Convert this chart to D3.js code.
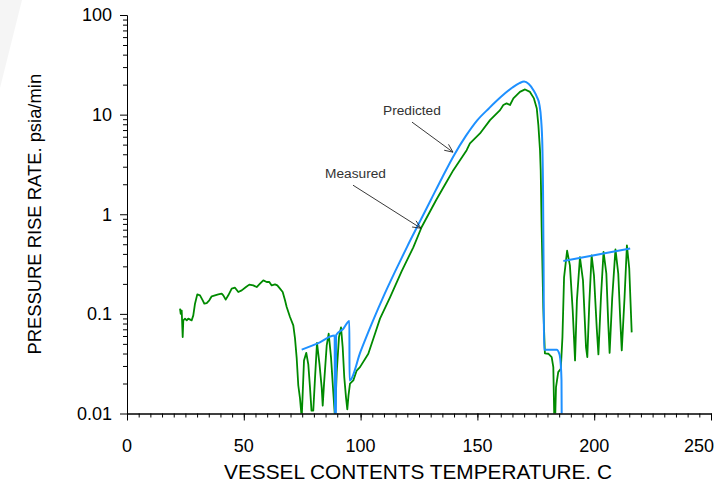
<!DOCTYPE html>
<html>
<head>
<meta charset="utf-8">
<script src="https://cdn.jsdelivr.net/npm/d3@7"></script>
<style>
  body { margin: 0; background: #fff; }
  svg { display: block; }
  text { font-family: Arial, "Liberation Sans", Helvetica, sans-serif; }
</style>
</head>
<body>
<svg id="chart" width="723" height="486"></svg>
<script>
// Measured pressure rise rate (psia/min) against vessel contents temperature (C)
const measuredTemp = [
  22.69, 22.99, 23.42, 23.84, 24.10, 24.83, 25.56, 26.24, 27.70, 28.38,
  29.11, 30.09, 31.25, 32.41, 33.09, 34.12, 35.23, 36.26, 37.67, 39.08,
  40.54, 41.22, 42.25, 43.36, 44.82, 46.23, 47.65, 49.10, 50.94, 52.35,
  54.07, 55.52, 56.93, 58.35, 59.80, 60.92, 61.94, 63.36, 64.34, 65.50,
  66.65, 67.64, 68.36, 69.78, 71.19, 71.92, 72.65, 73.33, 74.06, 74.79,
  75.77, 76.75, 77.61, 78.34, 78.98, 79.75, 80.48, 81.34, 82.41, 83.35,
  83.78, 84.33, 85.49, 86.34, 87.33, 88.18, 89.04, 89.77, 90.75, 91.61,
  92.34, 93.02, 93.75, 94.31, 94.82, 95.46, 96.88, 98.33, 99.74, 103.3,
  106.16, 108.3, 112.6, 117.55, 122.56, 126.15, 132.3, 136.1, 139.7, 145.4,
  146.8, 151.1, 155.4, 159.7, 161.1, 162.5, 163.95, 165.4, 168.2, 170.4,
  172.5, 174.2, 175.4, 176.1, 176.8, 177.1, 177.5, 178.2, 178.9, 180.35,
  181.8, 182.5, 182.9, 183.3, 183.65, 184.6, 185.7, 186.4, 187.1, 188.4,
  189.6, 190.8, 191.8, 192.6, 193.9, 195.2, 196.5, 197.05, 197.9, 198.9,
  199.9, 201.1, 201.8, 202.9, 204.0, 205.2, 206.0, 206.6, 207.7, 209.1,
  210.3, 211.2, 211.8, 213.0, 214.0, 215.0, 216.05
];
const measuredRate = [
  0.113, 0.100, 0.108, 0.0585, 0.0861, 0.0896, 0.0861, 0.0896, 0.0861, 0.0966,
  0.1266, 0.157, 0.1535, 0.1368, 0.1266, 0.1284, 0.1368, 0.150, 0.1535, 0.157,
  0.1596, 0.1535, 0.139, 0.1535, 0.179, 0.183, 0.1656, 0.172, 0.186, 0.1966,
  0.193, 0.186, 0.201, 0.217, 0.209, 0.209, 0.193, 0.198, 0.193, 0.179,
  0.1656, 0.1368, 0.117, 0.093, 0.0766, 0.0568, 0.0357, 0.0191, 0.0142, 0.009,
  0.0341, 0.0406, 0.0311, 0.0182, 0.0107, 0.0107, 0.0225, 0.0511, 0.0311, 0.0182,
  0.0120, 0.0196, 0.0482, 0.0632, 0.0368, 0.0182, 0.009, 0.0258, 0.0585, 0.0731,
  0.046, 0.023, 0.0145, 0.011, 0.0152, 0.0199, 0.0215, 0.027, 0.0292, 0.0398,
  0.0632, 0.0896, 0.1466, 0.267, 0.466, 0.745, 1.382, 1.98, 2.77, 4.40,
  5.14, 6.47, 8.81, 11.1, 12.5, 12.96, 12.5, 14.55, 16.9, 17.9,
  16.9, 14.55, 11.6, 7.84, 4.40, 2.77, 0.74, 0.116, 0.0401, 0.0398,
  0.0368, 0.0292, 0.009, 0.009, 0.0184, 0.026, 0.0281, 0.0581, 0.233, 0.430,
  0.307, 0.108, 0.0341, 0.1368, 0.370, 0.217, 0.046, 0.0368, 0.1275, 0.387,
  0.244, 0.0714, 0.0392, 0.1476, 0.420, 0.2535, 0.0821, 0.0406, 0.143, 0.445,
  0.2535, 0.0830, 0.043, 0.1476, 0.488, 0.286, 0.0652
];

// Predicted rate; null splits the curve into separate pieces
const predictedTemp = [
  74.8, 81.9, 88.9, 89.0, 89.4, 89.5, 92.6, 95.2, 95.25,
  100, 105, 110, 115, 120, 125, 130, 135, 140, 145,
  150, 155, 160, 165, 168, 170, 172, 174, 175.5, 176.5,
  177.3, 177.8, 178.1, 178.35, 178.5, 183.95, 185.06, 185.66, 186.0, 186.1,
  null,
  186.8, 215.4
];
const predictedRate = [
  0.0437, 0.0509, 0.0605, 0.008, 0.008, 0.0612, 0.0709, 0.0847, 0.0215,
  0.0420, 0.0821, 0.1535, 0.2735, 0.4766, 0.812, 1.382, 2.355, 3.917, 6.08,
  8.81, 11.6, 15.0, 18.7, 20.7, 21.5, 20.3, 17.6, 15.0, 12.75,
  8.81, 4.94, 1.74, 0.2735, 0.0437, 0.0437, 0.0398, 0.0316, 0.0215, 0.008,
  null,
  0.340, 0.452
];

const xTickValues = [0, 50, 100, 150, 200, 250];
const xTickLabels = ["0", "50", "100", "150", "200", "250"];
const yTickValues = [0.01, 0.1, 1, 10, 100];
const yTickLabels = ["0.01", "0.1", "1", "10", "100"];
const xAxisTitle = "VESSEL CONTENTS TEMPERATURE. C";
const yAxisTitle = "PRESSURE RISE RATE. psia/min";

// Callout labels with their leader arrows (data units)
const calloutText = ["Predicted", "Measured"];
const calloutTextAt = [[109.6, 9.9], [84.8, 2.30]];
const calloutArrowFrom = [[122.0, 8.41], [96.75, 1.957]];
const calloutArrowTo = [[139.55, 4.20], [125.86, 0.723]];

const svg = d3.select("#chart");

const x = d3.scaleLinear().domain([0, 250]).range([127, 711]);
const y = d3.scaleLog().domain([0.01, 100]).range([413.5, 15]);

// faint shading in the upper-left corner of the sheet
svg.append("path")
  .attr("d", "M0,0 L22,0 L0,88 Z")
  .attr("fill", "#f5f5f5");

svg.append("clipPath").attr("id", "plotClip")
  .append("rect")
  .attr("x", x(0)).attr("y", y(100) - 2)
  .attr("width", x(250) - x(0) + 2)
  .attr("height", y(0.01) - y(100) + 2);

const plot = svg.append("g").attr("clip-path", "url(#plotClip)");

const predicted = predictedTemp.map((t, i) => ({ t, v: predictedRate[i] }));
const measured = measuredTemp.map((t, i) => ({ t, v: measuredRate[i] }));

const linePred = d3.line()
  .defined(d => d.t != null)
  .x(d => x(d.t)).y(d => y(d.v))
  .curve(d3.curveMonotoneX);
const lineMeas = d3.line()
  .x(d => x(d.t)).y(d => y(d.v));

plot.append("path")
  .datum(measured)
  .attr("d", lineMeas)
  .attr("fill", "none")
  .attr("stroke", "#008a00")
  .attr("stroke-width", 1.8)
  .attr("stroke-linejoin", "round");

plot.append("path")
  .datum(predicted)
  .attr("d", linePred)
  .attr("fill", "none")
  .attr("stroke", "#1e90ff")
  .attr("stroke-width", 2)
  .attr("stroke-linejoin", "round");

// X axis: minor ticks every 5, major every 50
const xMinor = d3.range(0, 251, 5);
const xAxisG = svg.append("g").attr("transform", `translate(0,${y(0.01)})`);
xAxisG.call(d3.axisBottom(x).tickValues(xMinor).tickSize(4).tickSizeOuter(0).tickFormat(""));
xAxisG.call(g => g.append("g").call(d3.axisBottom(x).tickValues(xTickValues).tickSize(7).tickSizeOuter(0).tickFormat("")));
xAxisG.selectAll("path.domain").attr("stroke", "#000");
xAxisG.selectAll("line").attr("stroke", "#000");

// Y axis: log decades with minor ticks at 2..9
const yMinor = [];
yTickValues.slice(0, -1).forEach(d => { for (let k = 2; k <= 9; k++) yMinor.push(d * k); });
const yAxisG = svg.append("g").attr("transform", `translate(${x(0)},0)`);
yAxisG.call(d3.axisLeft(y).tickValues(yMinor).tickSize(4).tickSizeOuter(0).tickFormat(""));
yAxisG.call(g => g.append("g").call(d3.axisLeft(y).tickValues(yTickValues).tickSize(7).tickSizeOuter(0).tickFormat("")));
yAxisG.selectAll("path.domain").attr("stroke", "#000");
yAxisG.selectAll("line").attr("stroke", "#000");

// Tick labels
svg.append("g").selectAll("text")
  .data(xTickValues)
  .join("text")
  .attr("x", (d, i) => i === xTickValues.length - 1 ? x(d) + 3 : x(d))
  .attr("y", y(0.01) + 38)
  .attr("text-anchor", (d, i) => i === xTickValues.length - 1 ? "end" : "middle")
  .attr("font-size", 18)
  .attr("fill", "#000")
  .text((d, i) => xTickLabels[i]);

svg.append("g").selectAll("text")
  .data(yTickValues)
  .join("text")
  .attr("x", x(0) - 15)
  .attr("y", d => y(d))
  .attr("dy", "0.36em")
  .attr("text-anchor", "end")
  .attr("font-size", 18)
  .attr("fill", "#000")
  .text((d, i) => yTickLabels[i]);

// Axis titles
svg.append("text")
  .attr("x", 418).attr("y", 479)
  .attr("text-anchor", "middle")
  .attr("font-size", 20.8)
  .attr("fill", "#000")
  .text(xAxisTitle);

svg.append("text")
  .attr("transform", `translate(41,${(y(0.01) + y(100)) / 2}) rotate(-90)`)
  .attr("text-anchor", "middle")
  .attr("font-size", 18.4)
  .attr("fill", "#000")
  .text(yAxisTitle);

// Callouts
const callouts = svg.append("g");
calloutText.forEach((label, i) => {
  callouts.append("text")
    .attr("x", x(calloutTextAt[i][0]))
    .attr("y", y(calloutTextAt[i][1]))
    .attr("font-size", 13.7)
    .attr("fill", "#333")
    .text(label);
  const x1 = x(calloutArrowFrom[i][0]), y1 = y(calloutArrowFrom[i][1]);
  const x2 = x(calloutArrowTo[i][0]), y2 = y(calloutArrowTo[i][1]);
  const ang = Math.atan2(y2 - y1, x2 - x1);
  const len = 9, spread = 0.42;
  const ax = x2 - len * Math.cos(ang - spread), ay = y2 - len * Math.sin(ang - spread);
  const bx = x2 - len * Math.cos(ang + spread), by = y2 - len * Math.sin(ang + spread);
  callouts.append("path")
    .attr("d", `M${x1},${y1}L${x2},${y2}M${ax},${ay}L${x2},${y2}L${bx},${by}`)
    .attr("fill", "none")
    .attr("stroke", "#222")
    .attr("stroke-width", 0.9);
});
</script>
</body>
</html>
